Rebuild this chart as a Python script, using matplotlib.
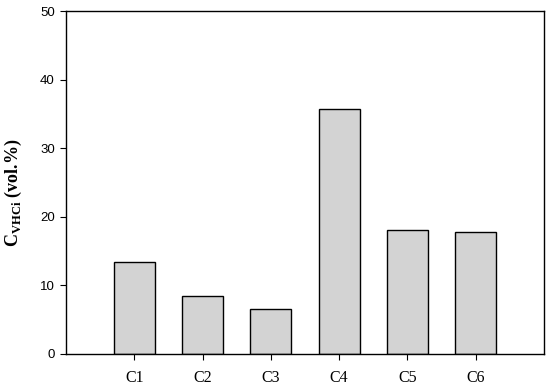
import numpy as np
import matplotlib.pyplot as plt

categories = ['C1', 'C2', 'C3', 'C4', 'C5', 'C6']
values = [13.4, 8.45, 6.55, 35.7, 18.1, 17.8]
y_ticks = [0, 10, 20, 30, 40, 50]

fig = plt.figure(figsize=(5.5, 3.89), dpi=100)
ax = fig.add_axes([66 / 550, 35 / 389, 478 / 550, 343 / 389])

x = np.arange(1, len(categories) + 1)
ax.bar(x, values, width=0.6, color='#d3d3d3', edgecolor='black', linewidth=1.0)

ax.set_xlim(0, 7)
ax.set_ylim(0, 50)
ax.set_xticks(x)
ax.set_xticklabels(categories, family='Liberation Serif', fontsize=11.5)
ax.set_yticks(y_ticks)
ax.set_yticklabels([str(t) for t in y_ticks], family='Liberation Sans', fontsize=9.5)
ax.tick_params(direction='out', length=4.5, width=0.8, top=False, right=False)
ax.tick_params(axis='x', pad=7)

for s in ax.spines.values():
    s.set_linewidth(1.0)

ax.set_ylabel(r'C$_{\mathregular{VHCi}}$ (vol.%)', family='Liberation Serif',
              fontsize=13, fontweight='bold')
ax.yaxis.set_label_coords(-0.088, 0.47)

fig.savefig('out.png', dpi=100)
